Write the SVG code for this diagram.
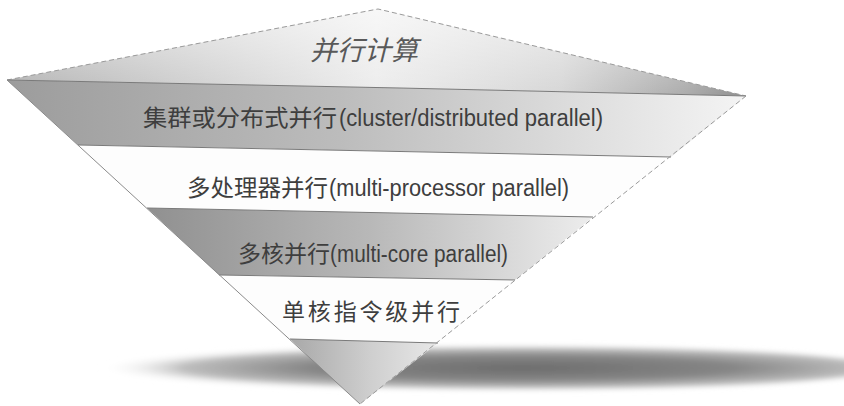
<svg xmlns="http://www.w3.org/2000/svg" width="844" height="406" viewBox="0 0 844 406">
  <style>
    .zh { font-family: "Noto Sans CJK SC", "Noto Sans", sans-serif; fill: #3e3e3e; }
    .en { font-family: "Liberation Sans", Arial, sans-serif; fill: #3e3e3e; }
    .seam { stroke: #7a7a7a; stroke-width: 1; fill: none; }
    .edge { stroke: #8a8a8a; stroke-width: 1; fill: none; }
    .dash { stroke: #9a9a9a; stroke-width: 1; stroke-dasharray: 5 3; fill: none; }
  </style>
  <defs>
    <linearGradient id="gTop" x1="7" y1="0" x2="746" y2="0" gradientUnits="userSpaceOnUse">
      <stop offset="0" stop-color="#b0b0b0"/>
      <stop offset="0.3" stop-color="#d4d4d4"/>
      <stop offset="0.5" stop-color="#ececec"/>
      <stop offset="0.75" stop-color="#d6d6d6"/>
      <stop offset="0.92" stop-color="#ababab"/>
      <stop offset="1" stop-color="#8e8e8e"/>
    </linearGradient>
    <linearGradient id="gTopShine" x1="0" y1="9" x2="0" y2="96" gradientUnits="userSpaceOnUse">
      <stop offset="0" stop-color="#ffffff" stop-opacity="0.6"/>
      <stop offset="1" stop-color="#ffffff" stop-opacity="0"/>
    </linearGradient>
    <linearGradient id="gBand1" x1="7" y1="0" x2="746" y2="0" gradientUnits="userSpaceOnUse">
      <stop offset="0" stop-color="#9c9c9c"/>
      <stop offset="0.45" stop-color="#bcbcbc"/>
      <stop offset="0.8" stop-color="#e0e0e0"/>
      <stop offset="1" stop-color="#f4f4f4"/>
    </linearGradient>
    <linearGradient id="gBand3" x1="147" y1="0" x2="593" y2="0" gradientUnits="userSpaceOnUse">
      <stop offset="0" stop-color="#909090"/>
      <stop offset="0.5" stop-color="#b8b8b8"/>
      <stop offset="1" stop-color="#ededed"/>
    </linearGradient>
    <linearGradient id="gBand5" x1="290" y1="0" x2="438" y2="0" gradientUnits="userSpaceOnUse">
      <stop offset="0" stop-color="#a8a8a8"/>
      <stop offset="0.55" stop-color="#cfcfcf"/>
      <stop offset="1" stop-color="#e8e8e8"/>
    </linearGradient>
    <radialGradient id="gShadow" cx="0.58" cy="0.5" r="0.5">
      <stop offset="0" stop-color="#6c6c6c"/>
      <stop offset="0.5" stop-color="#868686"/>
      <stop offset="0.8" stop-color="#bdbdbd"/>
      <stop offset="1" stop-color="#ffffff" stop-opacity="0"/>
    </radialGradient>
    <filter id="soft" x="-10%" y="-50%" width="120%" height="200%">
      <feGaussianBlur stdDeviation="2.5"/>
    </filter>
  </defs>

  <rect x="0" y="0" width="844" height="406" fill="#ffffff"/>

  <!-- floor shadow under the inverted pyramid -->
  <g id="shadow">
    <ellipse cx="455" cy="368" rx="425" ry="24" fill="url(#gShadow)" filter="url(#soft)"/>
  </g>

  <!-- top face: 并行计算 -->
  <g id="top-face">
    <polygon points="7,80 378,9 746,96 400,88" fill="url(#gTop)"/>
    <polygon points="7,80 378,9 746,96 400,88" fill="url(#gTopShine)"/>
    <polyline class="dash" points="7,80 378,9 746,96"/>
    <text class="zh" x="364" y="60" font-size="27" font-style="italic" text-anchor="middle" style="fill:#595959">并行计算</text>
  </g>

  <!-- band 1: cluster / distributed -->
  <g id="band-cluster">
    <polygon points="7,80 400,88 746,96 671,157 78,145" fill="url(#gBand1)"/>
    <polyline class="seam" points="7,80 400,88 746,96"/>
    <text class="zh" x="143" y="126" font-size="23" textLength="194" lengthAdjust="spacingAndGlyphs">集群或分布式并行</text>
    <text class="en" x="339" y="126" font-size="23" textLength="264" lengthAdjust="spacingAndGlyphs">(cluster/distributed parallel)</text>
  </g>

  <!-- band 2: multi-processor -->
  <g id="band-multiprocessor">
    <polygon points="78,145 671,157 593,217 147,208" fill="#fdfdfd"/>
    <line class="seam" x1="78" y1="145" x2="671" y2="157"/>
    <text class="zh" x="187" y="196" font-size="23" textLength="141" lengthAdjust="spacingAndGlyphs">多处理器并行</text>
    <text class="en" x="329" y="196" font-size="23" textLength="240" lengthAdjust="spacingAndGlyphs">(multi-processor parallel)</text>
  </g>

  <!-- band 3: multi-core -->
  <g id="band-multicore">
    <polygon points="147,208 593,217 515,280 219,275" fill="url(#gBand3)"/>
    <line class="seam" x1="147" y1="208" x2="593" y2="217"/>
    <text class="zh" x="238" y="262" font-size="23" textLength="92" lengthAdjust="spacingAndGlyphs">多核并行</text>
    <text class="en" x="330" y="262" font-size="23" textLength="178" lengthAdjust="spacingAndGlyphs">(multi-core parallel)</text>
  </g>

  <!-- band 4: single-core ILP -->
  <g id="band-ilp">
    <polygon points="219,275 515,280 438,343 290,339" fill="#fdfdfd"/>
    <line class="seam" x1="219" y1="275" x2="515" y2="280"/>
    <text class="zh" x="282" y="320" font-size="23" textLength="178" lengthAdjust="spacing">单核指令级并行</text>
  </g>

  <!-- band 5: tip -->
  <g id="band-tip">
    <polygon points="290,339 438,343 360,404" fill="url(#gBand5)"/>
    <line class="seam" x1="290" y1="339" x2="438" y2="343"/>
  </g>

  <!-- outline of the side edges -->
  <g id="edges">
    <line class="edge" x1="7" y1="80" x2="360" y2="404"/>
    <line class="dash" x1="746" y1="96" x2="360" y2="404"/>
  </g>
</svg>
